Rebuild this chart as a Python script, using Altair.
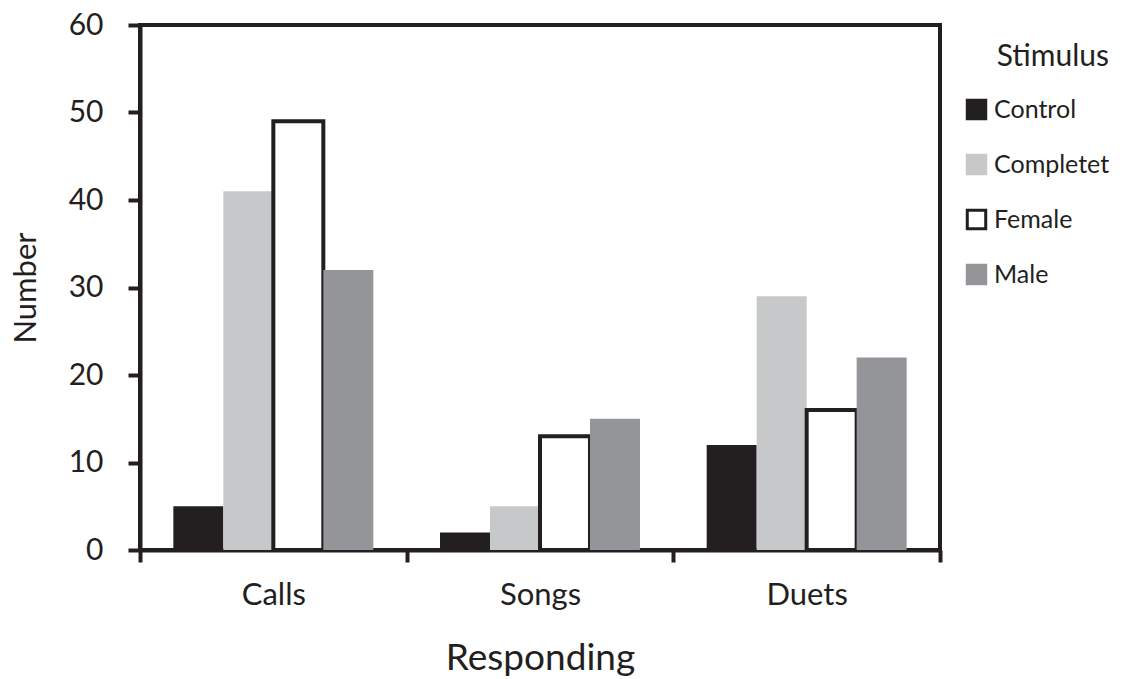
import altair as alt
import pandas as pd

# Categories and series
responding = ["Calls", "Songs", "Duets"]
stimuli = ["Control", "Completet", "Female", "Male"]

control = [5, 2, 12]
completet = [41, 5, 29]
female = [49, 13, 16]
male = [32, 15, 22]

y_ticks = [0, 10, 20, 30, 40, 50, 60]

fill_colors = ["#231f20", "#c7c8ca", "#ffffff", "#939598"]
stroke_colors = ["#231f20", "#c7c8ca", "#231f20", "#939598"]

rows = []
for i, (series, vals) in enumerate(zip(stimuli, [control, completet, female, male])):
    for cat, v in zip(responding, vals):
        rows.append({"Responding": cat, "Stimulus": series, "Number": v, "order": i})
df = pd.DataFrame(rows)

FONT = "Lato"
INK = "#231f20"

legend = alt.Legend(
    title="Stimulus",
    orient="none",
    legendX=824,
    legendY=17,
    symbolType="square",
    symbolSize=340,
    symbolStrokeWidth=3,
    labelFontSize=25,
    labelFont=FONT,
    labelColor=INK,
    labelOffset=5,
    titleFontSize=30,
    titleFont=FONT,
    titleFontWeight="normal",
    titleColor=INK,
    titleAnchor="end",
    titlePadding=25,
    rowPadding=24,
    padding=0,
)

chart = (
    alt.Chart(df)
    .mark_bar()
    .encode(
        x=alt.X(
            "Responding:N",
            sort=responding,
            scale=alt.Scale(paddingInner=0, paddingOuter=0),
            axis=alt.Axis(
                title="Responding",
                labelAngle=0,
                labelFontSize=31,
                labelFont=FONT,
                labelColor=INK,
                labelPadding=18,
                titleFontSize=37,
                titleFont=FONT,
                titleFontWeight="normal",
                titleColor=INK,
                titlePadding=30,
                tickBand="extent",
                tickSize=12,
                tickWidth=4,
                tickColor=INK,
                domainWidth=4,
                domainColor=INK,
            ),
        ),
        xOffset=alt.XOffset(
            "Stimulus:N",
            sort=stimuli,
            scale=alt.Scale(domain=stimuli, paddingInner=0, paddingOuter=0.667),
        ),
        y=alt.Y(
            "Number:Q",
            scale=alt.Scale(domain=[0, 60], nice=False),
            axis=alt.Axis(
                title="Number",
                values=y_ticks,
                grid=False,
                labelFontSize=30,
                labelFont=FONT,
                labelColor=INK,
                labelPadding=25,
                titleFontSize=31,
                titleFont=FONT,
                titleFontWeight="normal",
                titleColor=INK,
                titlePadding=26,
                tickSize=12,
                tickWidth=4,
                tickColor=INK,
                domainWidth=4,
                domainColor=INK,
            ),
        ),
        fill=alt.Fill(
            "Stimulus:N",
            sort=stimuli,
            scale=alt.Scale(domain=stimuli, range=fill_colors),
            legend=legend,
        ),
        stroke=alt.Stroke(
            "Stimulus:N",
            sort=stimuli,
            scale=alt.Scale(domain=stimuli, range=stroke_colors),
            legend=legend,
        ),
        strokeWidth=alt.when(alt.datum.Stimulus == "Female")
        .then(alt.value(4))
        .otherwise(alt.value(0)),
        order=alt.Order("order:Q"),
    )
    .properties(
        width=800,
        height=525,
        autosize=alt.AutoSizeParams(type="none"),
        padding={"left": 140, "top": 25, "right": 201, "bottom": 129},
    )
    .configure(background="white")
    .configure_view(stroke=INK, strokeWidth=4)
)

chart.save("out.html", embed_options={"renderer": "svg", "actions": False})
